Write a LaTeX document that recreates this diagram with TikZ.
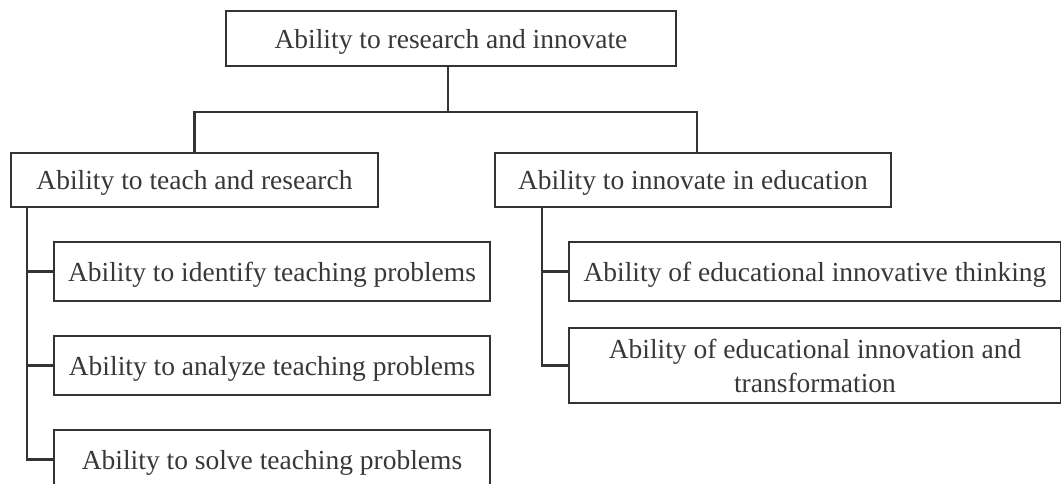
\documentclass[tikz,border=0pt]{standalone}
\usepackage{fontspec}
\setmainfont{Liberation Serif}
\begin{document}
\begin{tikzpicture}[x=1pt,y=-1pt,
  box/.style={draw=black!80, line width=2.2pt, fill=white, inner sep=0pt,
    text=black!78, font=\fontsize{27.5}{34}\selectfont, align=center},
  oneline/.style={box, text depth=0pt},
  link/.style={draw=black!80, line width=2.2pt}]
\useasboundingbox (0,0) rectangle (1061,483);
\clip (0,0) rectangle (1061,483);

% root
\node[oneline, minimum width=450pt, minimum height=55pt] (top) at (451,38.5)
  {Ability to research and innovate};

% second level
\node[oneline, minimum width=367pt, minimum height=54pt] (L1) at (194.5,180)
  {Ability to teach and research};
\node[oneline, minimum width=396pt, minimum height=54pt] (R1) at (693,180)
  {Ability to innovate in education};

% teaching branch
\node[oneline, minimum width=436pt, minimum height=59pt] (La) at (272,271.5)
  {Ability to identify teaching problems};
\node[oneline, minimum width=436pt, minimum height=59pt] (Lb) at (272,365.5)
  {Ability to analyze teaching problems};
\node[oneline, minimum width=436pt, minimum height=59pt] (Lc) at (272,459.5)
  {Ability to solve teaching problems};

% innovation branch
\node[oneline, minimum width=492pt, minimum height=59pt] (Ra) at (815,271.5)
  {Ability of educational innovative thinking};
\node[box, minimum width=492pt, minimum height=75pt] (Rb) at (815,365.5)
  {Ability of educational innovation and\\transformation};

% connectors
\draw[link] ([xshift=-3pt]top.south) -- ++(0,45) coordinate (fork)
  -| (L1.north);
\draw[link] (fork) -| ([xshift=4pt]R1.north);

\draw[link] ([xshift=17pt]L1.south west) coordinate (lspine) |- (Lc.west);
\draw[link] (lspine |- La.west) -- (La.west);
\draw[link] (lspine |- Lb.west) -- (Lb.west);

\draw[link] ([xshift=48pt]R1.south west) coordinate (rspine) |- (Rb.west);
\draw[link] (rspine |- Ra.west) -- (Ra.west);
\end{tikzpicture}
\end{document}
